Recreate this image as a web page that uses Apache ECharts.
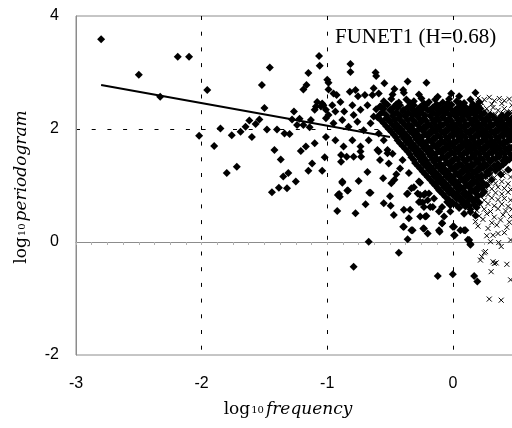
<!DOCTYPE html>
<html><head><meta charset="utf-8">
<script src="https://cdn.jsdelivr.net/npm/echarts@6/dist/echarts.min.js"></script>
<style>html,body{margin:0;padding:0;background:#fff}#c{width:512px;height:428px}</style>
</head><body><div id="c"></div>
<script>
const xTicks = [-3, -2, -1, 0];
const yTicks = [-2, 0, 2, 4];
const xMax = 0.479;
const fitLineX = [-2.8, -0.5];
const fitLineY = [2.78, 1.86];
const annotation = 'FUNET1 (H=0.68)';

const sparseDiamonds = [[-2.80,3.59],[-2.50,2.96],[-2.19,3.28],[-2.10,3.28],[-2.33,2.57],[-1.955,2.69],[-2.02,1.88],[-1.90,1.70],[-1.85,2.01],[-1.80,1.22],[-1.72,1.33],[-1.76,1.89],[-1.69,1.95],[-1.65,2.04],[-1.62,2.15],[-1.60,1.86],[-1.57,2.09],[-1.54,2.17],[-1.52,2.78],[-1.457,3.09],[-1.50,2.37],[-1.48,1.99],[-1.40,1.99],[-1.42,1.63],[-1.37,1.46],[-1.44,0.88],[-1.385,0.96],[-1.32,0.95],[-1.35,1.16],[-1.31,1.22],[-1.25,1.07],[-1.34,1.92],[-1.30,1.91],[-1.265,2.31],[-1.28,2.17],[-1.24,2.07],[-1.22,2.18],[-1.19,2.07],[-1.13,2.16],[-1.14,2.03],[-1.21,1.61],[-1.17,1.69],[-1.10,1.75],[-1.12,1.39],[-1.15,1.26],[-1.04,1.26],[-1.02,1.50],[-1.01,1.86],[-1.065,3.29],[-1.06,3.12],[-1.15,2.99],[-1.165,2.78],[-1.19,2.70],[-1.0,2.87],[-1.09,2.40],[-1.08,2.48],[-1.05,2.40],[-1.03,2.42],[-1.10,2.34],[-1.01,2.34],[-0.99,2.25],[-0.99,2.70],[-0.815,3.15],[-0.815,3.01],[-0.615,3.0],[-0.61,2.94],[-0.36,2.84],[-0.21,2.82],[-0.013,2.63],[0.18,2.64]];

const midDiamonds = [[-0.95,2.63],[-0.925,2.60],[-1.04,2.45],[-0.96,2.42],[-0.935,2.31],[-0.895,2.48],[-0.80,2.42],[-0.865,2.31],[-0.79,2.25],[-0.82,2.66],[-0.775,2.69],[-0.755,2.58],[-0.70,2.60],[-0.64,2.60],[-0.59,2.63],[-0.63,2.72],[-0.545,2.81],[-0.465,2.71],[-0.395,2.69],[-0.99,2.82],[-1.01,2.19],[-0.95,2.10],[-0.88,2.16],[-0.83,2.04],[-0.76,2.13],[-0.71,1.98],[-0.655,2.10],[-0.735,2.34],[-0.68,2.42],[-0.63,2.22],[-0.575,2.40],[-0.935,1.80],[-0.87,1.69],[-0.80,1.80],[-0.735,1.69],[-0.67,1.80],[-0.60,1.63],[-0.79,1.51],[-0.89,1.54],[-0.55,1.80],[-0.52,1.57],[-0.59,1.92],[-0.89,1.42],[-0.845,1.51],[-0.88,1.07],[-0.905,0.85],[-0.90,0.80],[-0.84,0.91],[-0.92,0.55],[-0.775,0.51],[-0.695,0.67],[-0.655,0.87],[-0.75,1.08],[-0.68,1.24],[-0.735,1.60],[-0.73,1.51],[-0.67,0.005],[-0.79,-0.44],[-0.43,-0.19],[-0.55,0.685],[-0.495,0.64],[-0.47,0.48],[-0.39,0.57],[-0.35,0.42],[-0.39,0.27],[-0.33,0.21],[-0.36,0.05],[-0.555,1.13],[-0.49,1.04],[-0.465,1.10],[-0.59,1.60],[-0.52,1.63],[-0.58,1.45],[-0.51,1.39],[-0.48,1.56],[-0.36,0.86],[-0.33,0.95],[-0.26,1.05],[-0.26,0.83],[-0.27,0.71],[-0.915,0.83],[-0.835,0.91],[-0.88,1.05],[-0.665,0.87],[-0.50,0.81],[-0.365,0.85],[-0.395,0.27],[-0.35,1.22],[-0.42,1.30],[-0.40,1.45],[-0.45,1.20]];

const denseDiamonds = [
[-0.55,2.49],[-0.49,2.53],[-0.43,2.47],[-0.37,2.52],[-0.31,2.49],[-0.25,2.54],[-0.19,2.48],[-0.14,2.52],[-0.08,2.47],[-0.03,2.53],[0.03,2.49],[0.09,2.46],[0.14,2.52],[0.21,2.48],
[-0.48,2.61],[-0.39,2.64],[-0.27,2.61],[-0.12,2.57],[0.05,2.58],
[-0.58,2.40],[-0.52,2.43],[-0.47,2.39],[-0.42,2.42],[-0.36,2.38],[-0.31,2.42],[-0.26,2.39],[-0.21,2.43],[-0.16,2.38],[-0.11,2.41],[-0.06,2.39],[-0.01,2.43],[0.04,2.38],[0.09,2.41],[0.14,2.37],[0.19,2.40],
[-0.56,2.30],[-0.50,2.33],[-0.45,2.29],[-0.40,2.32],[-0.35,2.28],[-0.30,2.31],[-0.25,2.29],[-0.20,2.33],[-0.15,2.28],[-0.10,2.31],[-0.05,2.29],[0.0,2.32],[0.05,2.28],[0.10,2.31],[0.15,2.29],[0.20,2.32],[0.25,2.28],
[-0.60,2.21],[-0.53,2.19],[-0.48,2.23],[-0.43,2.20],[-0.38,2.22],[-0.33,2.18],[-0.28,2.22],[-0.23,2.19],[-0.18,2.23],[-0.13,2.19],[-0.08,2.21],[-0.03,2.18],[0.02,2.22],[0.07,2.19],[0.12,2.22],[0.17,2.18],[0.22,2.21],[0.27,2.19],[0.32,2.22],[0.37,2.18],[0.42,2.21],[0.47,2.19],
[-0.55,2.10],[-0.50,2.13],[-0.45,2.09],[-0.40,2.12],[-0.35,2.08],[-0.30,2.11],[-0.25,2.13],[-0.20,2.09],[-0.15,2.12],[-0.10,2.08],[-0.05,2.11],[0.0,2.09],[0.05,2.12],[0.10,2.08],[0.15,2.11],[0.20,2.09],[0.25,2.12],[0.30,2.08],[0.35,2.11],[0.40,2.09],[0.45,2.12],
[-0.51,2.00],[-0.46,2.03],[-0.41,1.99],[-0.36,2.02],[-0.31,1.98],[-0.26,2.01],[-0.21,2.03],[-0.16,1.99],[-0.11,2.02],[-0.06,1.98],[-0.01,2.01],[0.04,1.99],[0.09,2.02],[0.14,1.98],[0.19,2.01],[0.24,1.99],[0.29,2.02],[0.34,1.98],[0.39,2.01],[0.44,1.99],
[-0.47,1.90],[-0.42,1.93],[-0.37,1.89],[-0.32,1.92],[-0.27,1.88],[-0.22,1.91],[-0.17,1.93],[-0.12,1.89],[-0.07,1.92],[-0.02,1.88],[0.03,1.91],[0.08,1.89],[0.13,1.92],[0.18,1.88],[0.23,1.91],[0.28,1.89],[0.33,1.92],[0.38,1.88],[0.43,1.91],[0.47,1.89],
[-0.44,1.80],[-0.39,1.83],[-0.34,1.79],[-0.29,1.82],[-0.24,1.78],[-0.19,1.81],[-0.14,1.83],[-0.09,1.79],[-0.04,1.82],[0.01,1.78],[0.06,1.81],[0.11,1.79],[0.16,1.82],[0.21,1.78],[0.26,1.81],[0.31,1.79],[0.36,1.82],[0.41,1.78],[0.46,1.81],
[-0.40,1.70],[-0.35,1.73],[-0.30,1.69],[-0.25,1.72],[-0.20,1.68],[-0.15,1.71],[-0.10,1.73],[-0.05,1.69],[0.0,1.72],[0.05,1.68],[0.10,1.71],[0.15,1.69],[0.20,1.72],[0.25,1.68],[0.30,1.71],[0.35,1.69],[0.40,1.72],[0.45,1.68],
[-0.36,1.60],[-0.31,1.63],[-0.26,1.59],[-0.21,1.62],[-0.16,1.58],[-0.11,1.61],[-0.06,1.63],[-0.01,1.59],[0.04,1.62],[0.09,1.58],[0.14,1.61],[0.19,1.59],[0.24,1.62],[0.29,1.58],[0.34,1.61],[0.39,1.59],[0.44,1.62],
[-0.33,1.50],[-0.28,1.53],[-0.23,1.49],[-0.18,1.52],[-0.13,1.48],[-0.08,1.51],[-0.03,1.53],[0.02,1.49],[0.07,1.52],[0.12,1.48],[0.17,1.51],[0.22,1.49],[0.27,1.52],[0.32,1.48],[0.37,1.51],[0.42,1.49],[0.47,1.52],
[-0.30,1.40],[-0.25,1.43],[-0.20,1.39],[-0.15,1.42],[-0.10,1.38],[-0.05,1.41],[0.0,1.43],[0.05,1.39],[0.10,1.42],[0.15,1.38],[0.20,1.41],[0.25,1.39],[0.30,1.42],[0.36,1.38],[0.42,1.41],
[-0.26,1.30],[-0.21,1.33],[-0.16,1.29],[-0.11,1.32],[-0.06,1.28],[-0.01,1.31],[0.04,1.33],[0.09,1.29],[0.14,1.32],[0.19,1.28],[0.24,1.31],[0.30,1.29],[0.37,1.32],[0.44,1.28],
[-0.22,1.20],[-0.17,1.23],[-0.12,1.19],[-0.07,1.22],[-0.02,1.18],[0.03,1.21],[0.08,1.23],[0.13,1.19],[0.18,1.22],[0.23,1.18],[0.29,1.21],[0.38,1.20],
[-0.18,1.10],[-0.13,1.13],[-0.08,1.09],[-0.03,1.12],[0.02,1.08],[0.07,1.11],[0.12,1.13],[0.17,1.09],[0.22,1.12],[0.31,1.10],
[-0.14,1.00],[-0.09,1.03],[-0.04,0.99],[0.01,1.02],[0.06,0.98],[0.11,1.01],[0.16,1.03],[0.21,0.99],[0.27,1.01],
[-0.10,0.90],[-0.05,0.93],[0.0,0.89],[0.05,0.92],[0.10,0.88],[0.15,0.91],[0.20,0.93],[0.25,0.89],
[-0.06,0.80],[0.0,0.83],[0.05,0.79],[0.10,0.82],[0.15,0.78],[0.20,0.81],
[0.0,0.70],[0.06,0.73],[0.11,0.69],[0.16,0.72],[0.21,0.70],
[0.05,0.60],[0.10,0.63],[0.14,0.58],[0.19,0.61],
[0.09,0.50],[0.14,0.53],[0.18,0.47]];

const fillDiamonds = [
[-0.54,2.45],[-0.45,2.44],[-0.34,2.46],[-0.23,2.45],[-0.13,2.44],[-0.04,2.46],[0.06,2.45],[0.16,2.44],
[-0.61,2.35],[-0.55,2.36],[-0.49,2.35],[-0.44,2.37],[-0.39,2.34],[-0.33,2.36],[-0.28,2.35],[-0.23,2.37],[-0.18,2.34],[-0.13,2.36],[-0.08,2.35],[-0.03,2.37],[0.02,2.34],[0.07,2.36],[0.12,2.35],[0.17,2.34],[0.22,2.36],
[-0.58,2.26],[-0.53,2.25],[-0.47,2.27],[-0.42,2.24],[-0.37,2.26],[-0.32,2.25],[-0.27,2.27],[-0.22,2.24],[-0.17,2.26],[-0.12,2.25],[-0.07,2.27],[-0.02,2.24],[0.03,2.26],[0.08,2.25],[0.13,2.27],[0.18,2.24],[0.23,2.26],[0.30,2.25],[0.39,2.24],[0.44,2.27],
[-0.57,2.15],[-0.51,2.17],[-0.46,2.16],[-0.41,2.14],[-0.36,2.16],[-0.31,2.15],[-0.26,2.17],[-0.21,2.14],[-0.16,2.16],[-0.11,2.15],[-0.06,2.17],[-0.01,2.14],[0.04,2.16],[0.09,2.15],[0.14,2.17],[0.19,2.14],[0.24,2.16],[0.29,2.15],[0.34,2.17],[0.39,2.14],[0.44,2.16],
[-0.53,2.05],[-0.48,2.07],[-0.43,2.04],[-0.38,2.06],[-0.33,2.05],[-0.28,2.07],[-0.23,2.04],[-0.18,2.06],[-0.13,2.05],[-0.08,2.07],[-0.03,2.04],[0.02,2.06],[0.07,2.05],[0.12,2.07],[0.17,2.04],[0.22,2.06],[0.27,2.05],[0.32,2.07],[0.37,2.04],[0.42,2.06],[0.47,2.05],
[-0.49,1.95],[-0.44,1.97],[-0.39,1.94],[-0.34,1.96],[-0.29,1.95],[-0.24,1.97],[-0.19,1.94],[-0.14,1.96],[-0.09,1.95],[-0.04,1.97],[0.01,1.94],[0.06,1.96],[0.11,1.95],[0.16,1.97],[0.21,1.94],[0.26,1.96],[0.31,1.95],[0.36,1.97],[0.41,1.94],[0.46,1.96],
[-0.45,1.85],[-0.40,1.87],[-0.35,1.84],[-0.30,1.86],[-0.25,1.85],[-0.20,1.87],[-0.15,1.84],[-0.10,1.86],[-0.05,1.85],[0.0,1.87],[0.05,1.84],[0.10,1.86],[0.15,1.85],[0.20,1.87],[0.25,1.84],[0.30,1.86],[0.35,1.85],[0.40,1.87],[0.45,1.84],
[-0.42,1.75],[-0.37,1.77],[-0.32,1.74],[-0.27,1.76],[-0.22,1.75],[-0.17,1.77],[-0.12,1.74],[-0.07,1.76],[-0.02,1.75],[0.03,1.77],[0.08,1.74],[0.13,1.76],[0.18,1.75],[0.23,1.77],[0.28,1.74],[0.33,1.76],[0.38,1.75],[0.43,1.77],
[-0.38,1.65],[-0.33,1.67],[-0.28,1.64],[-0.23,1.66],[-0.18,1.65],[-0.13,1.67],[-0.08,1.64],[-0.03,1.66],[0.02,1.65],[0.07,1.67],[0.12,1.64],[0.17,1.66],[0.22,1.65],[0.27,1.67],[0.32,1.64],[0.37,1.66],[0.42,1.65],[0.47,1.67],
[-0.34,1.55],[-0.29,1.57],[-0.24,1.54],[-0.19,1.56],[-0.14,1.55],[-0.09,1.57],[-0.04,1.54],[0.01,1.56],[0.06,1.55],[0.11,1.57],[0.16,1.54],[0.21,1.56],[0.26,1.55],[0.31,1.57],[0.36,1.54],[0.41,1.56],[0.46,1.55],
[-0.31,1.45],[-0.26,1.47],[-0.21,1.44],[-0.16,1.46],[-0.11,1.45],[-0.06,1.47],[-0.01,1.44],[0.04,1.46],[0.09,1.45],[0.14,1.47],[0.19,1.44],[0.24,1.46],[0.29,1.45],[0.34,1.47],[0.40,1.44],[0.45,1.46],
[-0.28,1.35],[-0.23,1.37],[-0.18,1.34],[-0.13,1.36],[-0.08,1.35],[-0.03,1.37],[0.02,1.34],[0.07,1.36],[0.12,1.35],[0.17,1.37],[0.22,1.34],[0.27,1.36],[0.33,1.35],[0.40,1.37],
[-0.24,1.25],[-0.19,1.27],[-0.14,1.24],[-0.09,1.26],[-0.04,1.25],[0.01,1.27],[0.06,1.24],[0.11,1.26],[0.16,1.25],[0.21,1.27],[0.27,1.24],[0.34,1.26],
[-0.20,1.15],[-0.15,1.17],[-0.10,1.14],[-0.05,1.16],[0.0,1.15],[0.05,1.17],[0.10,1.14],[0.15,1.16],[0.20,1.15],[0.26,1.17],
[-0.16,1.05],[-0.11,1.07],[-0.06,1.04],[-0.01,1.06],[0.04,1.05],[0.09,1.07],[0.14,1.04],[0.19,1.06],[0.24,1.05],
[-0.12,0.95],[-0.07,0.97],[-0.02,0.94],[0.03,0.96],[0.08,0.95],[0.13,0.97],[0.18,0.94],[0.23,0.96],
[-0.08,0.85],[-0.03,0.87],[0.03,0.84],[0.08,0.86],[0.13,0.85],[0.18,0.87],[0.23,0.84],
[-0.03,0.75],[0.03,0.77],[0.08,0.74],[0.13,0.76],[0.18,0.75],
[0.03,0.65],[0.08,0.67],[0.13,0.64],[0.17,0.66]];

const lowDiamonds = [[-0.27,1.07],[-0.28,0.86],[-0.22,0.86],[-0.20,0.74],[-0.24,0.70],[-0.14,1.04],[-0.11,0.92],[-0.15,0.77],[-0.18,0.62],[-0.26,0.45],[-0.22,0.45],[-0.085,0.62],[-0.045,0.71],[-0.02,0.65],[-0.07,0.45],[-0.085,0.33],[0.0,0.27],[-0.23,0.24],[-0.11,0.21],[0.01,0.12],[0.06,0.21],[0.10,0.21],[0.13,0.035],[0.14,-0.05],[-0.32,0.21],[-0.34,0.57],[-0.31,0.97],[-0.12,-0.60],[0.0,-0.57],[0.17,-0.60],[0.195,-0.70],[-0.23,0.83],[-0.19,0.86],[-0.26,0.71],[-0.23,0.62],[-0.16,0.62],[-0.11,0.54],[-0.21,0.46],[-0.235,0.24],[-0.20,0.15],[-0.105,0.18],[-0.085,0.33],[-0.02,0.54],[0.01,0.27],[0.015,0.12],[0.09,0.21],[0.12,0.04],[0.14,-0.035]];

const crosses = [[0.29,-1.01],[0.385,-1.03],[0.305,-0.525],[0.46,-0.67],[0.43,-0.395],[0.33,-0.38],[0.345,-0.37],[0.32,-0.35],[0.22,-0.32],[0.23,-0.26],[0.25,-0.19],[0.26,-0.17],[0.30,0.005],[0.365,-0.01],[0.385,-0.08],[0.46,0.035],[0.27,0.11],[0.32,0.12],[0.36,0.15],[0.41,0.165],
[0.20,0.28],[0.28,0.24],[0.35,0.30],[0.43,0.26],
[0.18,0.36],[0.24,0.40],[0.31,0.34],[0.38,0.39],[0.45,0.35],
[0.21,0.46],[0.27,0.50],[0.33,0.44],[0.40,0.48],[0.46,0.45],
[0.19,0.56],[0.25,0.58],[0.30,0.54],[0.36,0.59],[0.42,0.55],[0.47,0.58],
[0.22,0.66],[0.28,0.68],[0.33,0.64],[0.39,0.67],[0.44,0.63],
[0.20,0.76],[0.25,0.74],[0.31,0.78],[0.36,0.75],[0.41,0.77],[0.46,0.74],
[0.23,0.86],[0.28,0.84],[0.34,0.87],[0.39,0.85],[0.44,0.88],
[0.26,0.96],[0.31,0.94],[0.36,0.97],[0.41,0.95],[0.46,0.93],
[0.29,1.06],[0.34,1.04],[0.39,1.07],[0.44,1.03],
[0.26,1.16],[0.33,1.14],[0.40,1.17],[0.46,1.15],
[0.33,1.26],[0.41,1.24],[0.47,1.27],
[0.20,2.55],[0.25,2.52],[0.29,2.56],[0.33,2.50],[0.37,2.54],[0.41,2.50],[0.45,2.53],[0.23,2.46],[0.31,2.44],[0.39,2.45],[0.47,2.42],
[0.22,2.40],[0.27,2.36],[0.32,2.38],[0.36,2.33],[0.41,2.36],[0.46,2.31],[0.29,2.29],[0.34,2.26],[0.40,2.28],[0.45,2.24],[0.25,2.31]];

const chart = echarts.init(document.getElementById('c'), null, {renderer:'canvas'});
const gray = '#8c8c8c';
const dash = {color:'#000', width:1, type:[4,11.7]};
const richT = {
  a:{fontFamily:'DejaVu Serif', fontSize:17, color:'#000'},
  b:{fontFamily:'DejaVu Serif', fontSize:10, color:'#000', verticalAlign:'bottom', padding:[0,2,3,1]},
  c:{fontFamily:'DejaVu Serif', fontSize:17, fontStyle:'italic', color:'#000'}
};
chart.setOption({
  animation:false,
  backgroundColor:'#fff',
  grid:{left:76, top:16, right:-1, bottom:73, containLabel:false, outerBoundsMode:'none',
        show:true, borderColor:gray, borderWidth:1, backgroundColor:'transparent'},
  xAxis:{
    type:'value', min:xTicks[0], max:xMax, interval:1, position:'bottom',
    axisLine:{lineStyle:{color:gray, width:1}},
    axisTick:{show:true, length:3, lineStyle:{color:'#b0b0b0'}},
    minorTick:{show:true, splitNumber:8, length:3, lineStyle:{color:'#b0b0b0'}},
    axisLabel:{margin:21, fontFamily:'Liberation Sans', fontSize:16, color:'#000',
      formatter:v=>xTicks.includes(v)?String(v):''},
    splitLine:{show:true, showMinLine:false, showMaxLine:false, lineStyle:dash}
  },
  yAxis:{
    type:'value', min:yTicks[0], max:yTicks[yTicks.length-1], interval:2,
    axisLine:{show:true, onZero:false, lineStyle:{color:gray, width:1}},
    axisTick:{show:false},
    axisLabel:{margin:17, fontFamily:'Liberation Sans', fontSize:16, color:'#000'},
    splitLine:{show:true, showMinLine:false, showMaxLine:false, lineStyle:dash}
  },
  series:[
    {type:'scatter', symbol:'diamond', symbolSize:8, itemStyle:{color:'#000', opacity:1},
     data:[].concat(sparseDiamonds, midDiamonds, denseDiamonds, fillDiamonds, lowDiamonds), z:2},
    {type:'scatter', symbol:'path://M0,0L10,10M10,0L0,10', symbolSize:5,
     itemStyle:{color:'none', borderColor:'#000', borderWidth:1, opacity:1}, data:crosses, z:3},
    {type:'line', data:fitLineX.map((x,i)=>[x,fitLineY[i]]), symbol:'none',
     lineStyle:{color:'#000', width:2}, z:4}
  ],
  graphic:[
    {type:'text', left:335, top:27, style:{text:annotation, font:'21px "Liberation Serif"', fill:'#000'}},
    {type:'text', x:288, y:410, style:{text:'{a|log}{b|10}{c|frequency}', rich:richT, align:'center', verticalAlign:'middle', textAlign:'center', textVerticalAlign:'middle'}},
    {type:'text', x:22, y:187, rotation:Math.PI/2, style:{text:'{a|log}{b|10}{c|periodogram}', rich:richT, align:'center', verticalAlign:'middle', textAlign:'center', textVerticalAlign:'middle'}}
  ]
});
</script></body></html>
